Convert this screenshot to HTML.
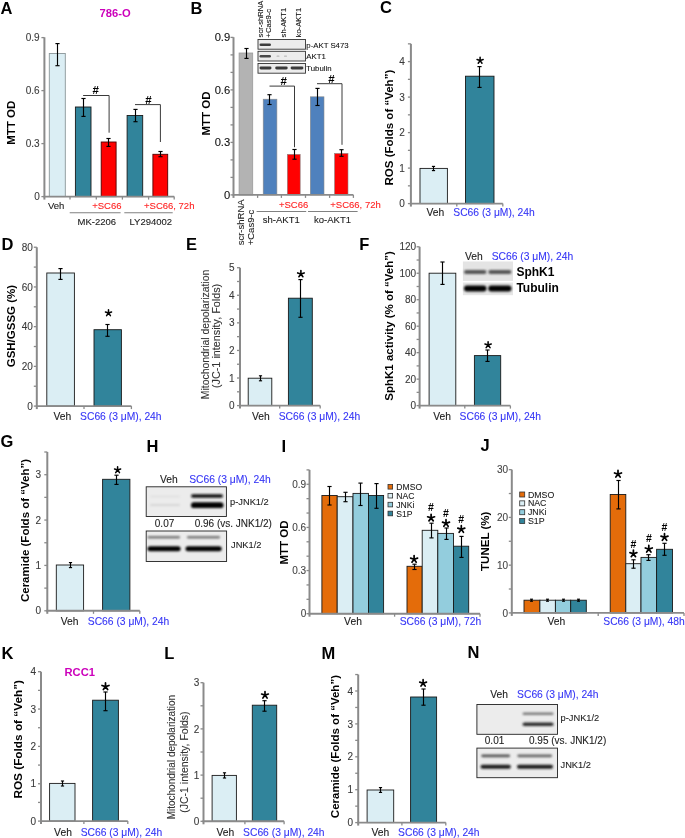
<!DOCTYPE html>
<html><head><meta charset="utf-8"><style>
html,body{margin:0;padding:0;background:#fff;width:685px;height:838px;overflow:hidden}
svg{display:block}
text{font-family:"Liberation Sans", sans-serif}
</style></head><body>
<svg width="685" height="838" viewBox="0 0 685 838">
<defs>
<filter id="b1" x="-50%" y="-200%" width="200%" height="500%"><feGaussianBlur stdDeviation="0.7"/></filter>
<filter id="b2" x="-50%" y="-200%" width="200%" height="500%"><feGaussianBlur stdDeviation="0.9"/></filter>
</defs>
<rect width="685" height="838" fill="#fff"/>
<g opacity="0.999">
<text x="0.5" y="13.55" font-size="16.5" fill="#000" font-weight="bold" text-anchor="start" >A</text>
<text x="99.6" y="17" font-size="11.2" fill="#cc00bb" font-weight="bold" text-anchor="start" >786-O</text>
<text x="39.7" y="200.2" font-size="10" fill="#3a3a3a" stroke="#3a3a3a" stroke-width="0.1" text-anchor="end" >0</text>
<text x="39.7" y="147.2" font-size="10" fill="#3a3a3a" stroke="#3a3a3a" stroke-width="0.1" text-anchor="end" >0.3</text>
<text x="39.7" y="94.2" font-size="10" fill="#3a3a3a" stroke="#3a3a3a" stroke-width="0.1" text-anchor="end" >0.6</text>
<text x="39.7" y="41.2" font-size="10" fill="#3a3a3a" stroke="#3a3a3a" stroke-width="0.1" text-anchor="end" >0.9</text>
<rect x="49.3" y="53.5" width="16" height="143.1" fill="#dbeef4" stroke="#8a9699" stroke-width="0.9" />
<line x1="57.5" y1="43.6" x2="57.5" y2="65.7" stroke="#000" stroke-width="1.15" />
<line x1="55.4" y1="43.6" x2="59.6" y2="43.6" stroke="#000" stroke-width="1.15" />
<line x1="55.4" y1="65.7" x2="59.6" y2="65.7" stroke="#000" stroke-width="1.15" />
<rect x="75.4" y="107" width="15.6" height="89.6" fill="#31849b" stroke="#1a1a1a" stroke-width="0.9" />
<line x1="83.5" y1="98.5" x2="83.5" y2="116.4" stroke="#000" stroke-width="1.15" />
<line x1="81.4" y1="98.5" x2="85.6" y2="98.5" stroke="#000" stroke-width="1.15" />
<line x1="81.4" y1="116.4" x2="85.6" y2="116.4" stroke="#000" stroke-width="1.15" />
<rect x="101.2" y="142" width="14.9" height="54.6" fill="#ff0000" stroke="#500000" stroke-width="0.9" />
<line x1="108.5" y1="138.5" x2="108.5" y2="146.4" stroke="#000" stroke-width="1.15" />
<line x1="106.4" y1="138.5" x2="110.6" y2="138.5" stroke="#000" stroke-width="1.15" />
<line x1="106.4" y1="146.4" x2="110.6" y2="146.4" stroke="#000" stroke-width="1.15" />
<rect x="127.1" y="115.5" width="15.6" height="81.1" fill="#31849b" stroke="#1a1a1a" stroke-width="0.9" />
<line x1="135.5" y1="109.4" x2="135.5" y2="121.7" stroke="#000" stroke-width="1.15" />
<line x1="133.4" y1="109.4" x2="137.6" y2="109.4" stroke="#000" stroke-width="1.15" />
<line x1="133.4" y1="121.7" x2="137.6" y2="121.7" stroke="#000" stroke-width="1.15" />
<rect x="152.9" y="154.3" width="14.8" height="42.3" fill="#ff0000" stroke="#500000" stroke-width="0.9" />
<line x1="160.5" y1="151.5" x2="160.5" y2="156.7" stroke="#000" stroke-width="1.15" />
<line x1="158.4" y1="151.5" x2="162.6" y2="151.5" stroke="#000" stroke-width="1.15" />
<line x1="158.4" y1="156.7" x2="162.6" y2="156.7" stroke="#000" stroke-width="1.15" />
<polyline points="83.1,95.5 109.1,95.5 109.1,132.7" fill="none" stroke="#3a3a3a" stroke-width="1"/>
<text x="95.7" y="94.33" font-size="11.5" fill="#000" font-weight="bold" text-anchor="middle" >#</text>
<polyline points="135,104.6 160.4,104.6 160.4,142" fill="none" stroke="#3a3a3a" stroke-width="1"/>
<text x="148.5" y="104.13" font-size="11.5" fill="#000" font-weight="bold" text-anchor="middle" >#</text>
<text x="56.2" y="209.3" font-size="9.5" fill="#1a1a1a" stroke="#1a1a1a" stroke-width="0.1" text-anchor="middle" >Veh</text>
<text x="121.5" y="209.3" font-size="9.5" fill="#ff2020" stroke="#ff2020" stroke-width="0.1" text-anchor="end" >+SC66</text>
<text x="144" y="209.3" font-size="9.5" fill="#ff2020" stroke="#ff2020" stroke-width="0.1" text-anchor="start" >+SC66, 72h</text>
<line x1="69.7" y1="212.8" x2="120.6" y2="212.8" stroke="#808080" stroke-width="1.1" />
<line x1="124.3" y1="212.8" x2="172.7" y2="212.8" stroke="#808080" stroke-width="1.1" />
<text x="96.9" y="225.3" font-size="9.5" fill="#1a1a1a" stroke="#1a1a1a" stroke-width="0.1" text-anchor="middle" >MK-2206</text>
<text x="150.8" y="225.3" font-size="9.5" fill="#1a1a1a" stroke="#1a1a1a" stroke-width="0.1" text-anchor="middle" >LY294002</text>
<text x="15.25" y="122.7" font-size="11.5" fill="#000" font-weight="bold" text-anchor="middle" transform="rotate(-90 15.25 122.7)" >MTT OD</text>
<text x="190.5" y="13.95" font-size="16.5" fill="#000" font-weight="bold" text-anchor="start" >B</text>
<text x="230.2" y="198.93" font-size="11.2" fill="#111" stroke="#111" stroke-width="0.1" text-anchor="end" >0</text>
<text x="230.2" y="146.43" font-size="11.2" fill="#111" stroke="#111" stroke-width="0.1" text-anchor="end" >0.3</text>
<text x="230.2" y="93.93" font-size="11.2" fill="#111" stroke="#111" stroke-width="0.1" text-anchor="end" >0.6</text>
<text x="230.2" y="41.43" font-size="11.2" fill="#111" stroke="#111" stroke-width="0.1" text-anchor="end" >0.9</text>
<rect x="239.1" y="53" width="13.6" height="141.9" fill="#b3b3b3" stroke="#9a9a9a" stroke-width="0.8" />
<line x1="246.5" y1="48.5" x2="246.5" y2="58.4" stroke="#000" stroke-width="1.15" />
<line x1="244.4" y1="48.5" x2="248.6" y2="48.5" stroke="#000" stroke-width="1.15" />
<line x1="244.4" y1="58.4" x2="248.6" y2="58.4" stroke="#000" stroke-width="1.15" />
<rect x="263.2" y="99.2" width="13.7" height="95.7" fill="#4f81bd" stroke="#8a8a8a" stroke-width="0.6" />
<line x1="269.5" y1="94.7" x2="269.5" y2="104.5" stroke="#000" stroke-width="1.15" />
<line x1="267.4" y1="94.7" x2="271.6" y2="94.7" stroke="#000" stroke-width="1.15" />
<line x1="267.4" y1="104.5" x2="271.6" y2="104.5" stroke="#000" stroke-width="1.15" />
<rect x="287.3" y="154.3" width="12.9" height="40.6" fill="#ff0000" stroke="#8a8a8a" stroke-width="0.6" />
<line x1="294.5" y1="149.5" x2="294.5" y2="159.2" stroke="#000" stroke-width="1.15" />
<line x1="292.4" y1="149.5" x2="296.6" y2="149.5" stroke="#000" stroke-width="1.15" />
<line x1="292.4" y1="159.2" x2="296.6" y2="159.2" stroke="#000" stroke-width="1.15" />
<rect x="310.3" y="96.8" width="13.7" height="98.1" fill="#4f81bd" stroke="#8a8a8a" stroke-width="0.6" />
<line x1="317.5" y1="88.4" x2="317.5" y2="105.5" stroke="#000" stroke-width="1.15" />
<line x1="315.4" y1="88.4" x2="319.6" y2="88.4" stroke="#000" stroke-width="1.15" />
<line x1="315.4" y1="105.5" x2="319.6" y2="105.5" stroke="#000" stroke-width="1.15" />
<rect x="334.5" y="153.4" width="13.5" height="41.5" fill="#ff0000" stroke="#8a8a8a" stroke-width="0.6" />
<line x1="341.5" y1="149.7" x2="341.5" y2="156.3" stroke="#000" stroke-width="1.15" />
<line x1="339.4" y1="149.7" x2="343.6" y2="149.7" stroke="#000" stroke-width="1.15" />
<line x1="339.4" y1="156.3" x2="343.6" y2="156.3" stroke="#000" stroke-width="1.15" />
<polyline points="269.5,86.1 294.5,86.1 294.5,147.2" fill="none" stroke="#3a3a3a" stroke-width="1"/>
<text x="283.6" y="84.63" font-size="11.5" fill="#000" font-weight="bold" text-anchor="middle" >#</text>
<polyline points="317,83.7 342,83.7 342,144.8" fill="none" stroke="#3a3a3a" stroke-width="1"/>
<text x="331.5" y="82.93" font-size="11.5" fill="#000" font-weight="bold" text-anchor="middle" >#</text>
<rect x="258" y="39.5" width="47.5" height="9.7" fill="#ececec" stroke="#333" stroke-width="0.9" />
<rect x="258" y="51.3" width="47.5" height="9.7" fill="#ececec" stroke="#333" stroke-width="0.9" />
<rect x="258" y="63.5" width="47.5" height="9.7" fill="#ececec" stroke="#333" stroke-width="0.9" />
<rect x="259.5" y="43.5" width="11.5" height="2.6" rx="1.3" fill="#3c3c3c" opacity="1.0" filter="url(#b1)"/>
<rect x="259.5" y="55" width="11.5" height="2.4" rx="1.2" fill="#4a4a4a" opacity="1.0" filter="url(#b1)"/>
<rect x="276.5" y="55.6" width="3" height="1.2" rx="0.6" fill="#bbb" opacity="1.0" filter="url(#b1)"/>
<rect x="284" y="55.6" width="3" height="1.2" rx="0.6" fill="#bbb" opacity="1.0" filter="url(#b1)"/>
<rect x="259.5" y="66.6" width="12" height="2.8" rx="1.4" fill="#3a3a3a" opacity="1.0" filter="url(#b1)"/>
<rect x="275.2" y="66.6" width="12.5" height="2.8" rx="1.4" fill="#3a3a3a" opacity="1.0" filter="url(#b1)"/>
<rect x="290.6" y="66.6" width="12.8" height="2.8" rx="1.4" fill="#3a3a3a" opacity="1.0" filter="url(#b1)"/>
<text x="306.3" y="47.5" font-size="7.8" fill="#111" stroke="#111" stroke-width="0.1" text-anchor="start" >p-AKT S473</text>
<text x="306.3" y="59.2" font-size="7.8" fill="#111" stroke="#111" stroke-width="0.1" text-anchor="start" >AKT1</text>
<text x="306.3" y="71" font-size="7.8" fill="#111" stroke="#111" stroke-width="0.1" text-anchor="start" >Tubulin</text>
<text x="263" y="37.4" font-size="7.6" fill="#111" stroke="#111" stroke-width="0.1" text-anchor="start" transform="rotate(-90 263 37.4)" >scr-shRNA</text>
<text x="270.6" y="37.4" font-size="7.6" fill="#111" stroke="#111" stroke-width="0.1" text-anchor="start" transform="rotate(-90 270.6 37.4)" >+Cas9-c</text>
<text x="285.6" y="37.4" font-size="7.6" fill="#111" stroke="#111" stroke-width="0.1" text-anchor="start" transform="rotate(-90 285.6 37.4)" >sh-AKT1</text>
<text x="301.3" y="37.4" font-size="7.6" fill="#111" stroke="#111" stroke-width="0.1" text-anchor="start" transform="rotate(-90 301.3 37.4)" >ko-AKT1</text>
<text x="308.3" y="208" font-size="9.5" fill="#ff2020" stroke="#ff2020" stroke-width="0.1" text-anchor="end" >+SC66</text>
<text x="330.3" y="208" font-size="9.5" fill="#ff2020" stroke="#ff2020" stroke-width="0.1" text-anchor="start" >+SC66, 72h</text>
<line x1="256.6" y1="211.5" x2="306.2" y2="211.5" stroke="#808080" stroke-width="1.1" />
<line x1="308" y1="211.5" x2="357.6" y2="211.5" stroke="#808080" stroke-width="1.1" />
<text x="281.3" y="223.2" font-size="9.5" fill="#1a1a1a" stroke="#1a1a1a" stroke-width="0.1" text-anchor="middle" >sh-AKT1</text>
<text x="332.5" y="223.2" font-size="9.5" fill="#1a1a1a" stroke="#1a1a1a" stroke-width="0.1" text-anchor="middle" >ko-AKT1</text>
<text x="244.5" y="245.3" font-size="9.5" fill="#222" stroke="#222" stroke-width="0.1" text-anchor="start" transform="rotate(-90 244.5 245.3)" >scr-shRNA</text>
<text x="254.4" y="245.3" font-size="9.5" fill="#222" stroke="#222" stroke-width="0.1" text-anchor="start" transform="rotate(-90 254.4 245.3)" >+Cas9-c</text>
<text x="209.95" y="113.5" font-size="11.5" fill="#000" font-weight="bold" text-anchor="middle" transform="rotate(-90 209.95 113.5)" >MTT OD</text>
<text x="380" y="12.65" font-size="16.5" fill="#000" font-weight="bold" text-anchor="start" >C</text>
<text x="404.9" y="207.2" font-size="10" fill="#3a3a3a" stroke="#3a3a3a" stroke-width="0.1" text-anchor="end" >0</text>
<text x="404.9" y="171.7" font-size="10" fill="#3a3a3a" stroke="#3a3a3a" stroke-width="0.1" text-anchor="end" >1</text>
<text x="404.9" y="136.2" font-size="10" fill="#3a3a3a" stroke="#3a3a3a" stroke-width="0.1" text-anchor="end" >2</text>
<text x="404.9" y="100.7" font-size="10" fill="#3a3a3a" stroke="#3a3a3a" stroke-width="0.1" text-anchor="end" >3</text>
<text x="404.9" y="65.2" font-size="10" fill="#3a3a3a" stroke="#3a3a3a" stroke-width="0.1" text-anchor="end" >4</text>
<rect x="420" y="168.4" width="27.4" height="35.2" fill="#dbeef4" stroke="#1a1a1a" stroke-width="0.9" />
<line x1="433.5" y1="166.4" x2="433.5" y2="170.6" stroke="#000" stroke-width="1.15" />
<line x1="431.9" y1="166.4" x2="435.1" y2="166.4" stroke="#000" stroke-width="1.15" />
<line x1="431.9" y1="170.6" x2="435.1" y2="170.6" stroke="#000" stroke-width="1.15" />
<rect x="465.5" y="76.2" width="28.5" height="127.4" fill="#31849b" stroke="#1a1a1a" stroke-width="0.9" />
<line x1="479.5" y1="66.6" x2="479.5" y2="87.4" stroke="#000" stroke-width="1.15" />
<line x1="477.4" y1="66.6" x2="481.6" y2="66.6" stroke="#000" stroke-width="1.15" />
<line x1="477.4" y1="87.4" x2="481.6" y2="87.4" stroke="#000" stroke-width="1.15" />
<path d="M480.1,60.58L480.1,57.36M480.1,60.58L483.16,59.58M480.1,60.58L481.99,63.18M480.1,60.58L478.21,63.18M480.1,60.58L477.04,59.58" stroke="#000" stroke-width="1.52" stroke-linecap="round" fill="none"/>
<text x="435.3" y="215.6" font-size="10.3" fill="#1a1a1a" stroke="#1a1a1a" stroke-width="0.1" text-anchor="middle" >Veh</text>
<text x="453.3" y="215.6" font-size="10.3" fill="#3535f5" stroke="#3535f5" stroke-width="0.1" text-anchor="start" >SC66 (3 μM), 24h</text>
<text x="393.05" y="127.6" font-size="11.5" fill="#000" font-weight="bold" text-anchor="middle" transform="rotate(-90 393.05 127.6)" >ROS (Folds of “Veh”)</text>
<text x="1.5" y="250.15" font-size="16.5" fill="#000" font-weight="bold" text-anchor="start" >D</text>
<text x="32.9" y="409.7" font-size="10" fill="#3a3a3a" stroke="#3a3a3a" stroke-width="0.1" text-anchor="end" >0</text>
<text x="32.9" y="369.98" font-size="10" fill="#3a3a3a" stroke="#3a3a3a" stroke-width="0.1" text-anchor="end" >20</text>
<text x="32.9" y="330.26" font-size="10" fill="#3a3a3a" stroke="#3a3a3a" stroke-width="0.1" text-anchor="end" >40</text>
<text x="32.9" y="290.54" font-size="10" fill="#3a3a3a" stroke="#3a3a3a" stroke-width="0.1" text-anchor="end" >60</text>
<text x="32.9" y="250.82" font-size="10" fill="#3a3a3a" stroke="#3a3a3a" stroke-width="0.1" text-anchor="end" >80</text>
<rect x="46.8" y="273" width="27.6" height="133.1" fill="#dbeef4" stroke="#1a1a1a" stroke-width="0.9" />
<line x1="60.5" y1="268.6" x2="60.5" y2="279.4" stroke="#000" stroke-width="1.15" />
<line x1="58.4" y1="268.6" x2="62.6" y2="268.6" stroke="#000" stroke-width="1.15" />
<line x1="58.4" y1="279.4" x2="62.6" y2="279.4" stroke="#000" stroke-width="1.15" />
<rect x="94" y="329.7" width="27.4" height="76.4" fill="#31849b" stroke="#1a1a1a" stroke-width="0.9" />
<line x1="107.5" y1="324.5" x2="107.5" y2="336.3" stroke="#000" stroke-width="1.15" />
<line x1="105.4" y1="324.5" x2="109.6" y2="324.5" stroke="#000" stroke-width="1.15" />
<line x1="105.4" y1="336.3" x2="109.6" y2="336.3" stroke="#000" stroke-width="1.15" />
<path d="M108.5,312.98L108.5,309.76M108.5,312.98L111.56,311.98M108.5,312.98L110.39,315.58M108.5,312.98L106.61,315.58M108.5,312.98L105.44,311.98" stroke="#000" stroke-width="1.52" stroke-linecap="round" fill="none"/>
<text x="62.4" y="420.1" font-size="10.3" fill="#1a1a1a" stroke="#1a1a1a" stroke-width="0.1" text-anchor="middle" >Veh</text>
<text x="80.1" y="420.1" font-size="10.3" fill="#3535f5" stroke="#3535f5" stroke-width="0.1" text-anchor="start" >SC66 (3 μM), 24h</text>
<text x="14.95" y="326.1" font-size="11.5" fill="#000" font-weight="bold" text-anchor="middle" transform="rotate(-90 14.95 326.1)" >GSH/GSSG (%)</text>
<text x="186" y="250.35" font-size="16.5" fill="#000" font-weight="bold" text-anchor="start" >E</text>
<text x="234.6" y="409.2" font-size="10" fill="#3a3a3a" stroke="#3a3a3a" stroke-width="0.1" text-anchor="end" >0</text>
<text x="234.6" y="381.62" font-size="10" fill="#3a3a3a" stroke="#3a3a3a" stroke-width="0.1" text-anchor="end" >1</text>
<text x="234.6" y="354.04" font-size="10" fill="#3a3a3a" stroke="#3a3a3a" stroke-width="0.1" text-anchor="end" >2</text>
<text x="234.6" y="326.46" font-size="10" fill="#3a3a3a" stroke="#3a3a3a" stroke-width="0.1" text-anchor="end" >3</text>
<text x="234.6" y="298.88" font-size="10" fill="#3a3a3a" stroke="#3a3a3a" stroke-width="0.1" text-anchor="end" >4</text>
<text x="234.6" y="271.3" font-size="10" fill="#3a3a3a" stroke="#3a3a3a" stroke-width="0.1" text-anchor="end" >5</text>
<rect x="248.2" y="378.2" width="23.6" height="27.4" fill="#dbeef4" stroke="#1a1a1a" stroke-width="0.9" />
<line x1="260.5" y1="375.8" x2="260.5" y2="380.8" stroke="#000" stroke-width="1.15" />
<line x1="258.9" y1="375.8" x2="262.1" y2="375.8" stroke="#000" stroke-width="1.15" />
<line x1="258.9" y1="380.8" x2="262.1" y2="380.8" stroke="#000" stroke-width="1.15" />
<rect x="288.4" y="298.2" width="23.9" height="107.4" fill="#31849b" stroke="#1a1a1a" stroke-width="0.9" />
<line x1="300.5" y1="279.6" x2="300.5" y2="317.3" stroke="#000" stroke-width="1.15" />
<line x1="298.4" y1="279.6" x2="302.6" y2="279.6" stroke="#000" stroke-width="1.15" />
<line x1="298.4" y1="317.3" x2="302.6" y2="317.3" stroke="#000" stroke-width="1.15" />
<path d="M300.9,273.99L300.9,270.6M300.9,273.99L304.13,272.94M300.9,273.99L302.89,276.74M300.9,273.99L298.91,276.74M300.9,273.99L297.67,272.94" stroke="#000" stroke-width="1.6" stroke-linecap="round" fill="none"/>
<text x="260.8" y="419.8" font-size="10.3" fill="#1a1a1a" stroke="#1a1a1a" stroke-width="0.1" text-anchor="middle" >Veh</text>
<text x="278.7" y="419.8" font-size="10.3" fill="#3535f5" stroke="#3535f5" stroke-width="0.1" text-anchor="start" >SC66 (3 μM), 24h</text>
<text x="208.62" y="334.5" font-size="10.4" fill="#333" stroke="#333" stroke-width="0.1" text-anchor="middle" transform="rotate(-90 208.62 334.5)" >Mitochondrial depolarization</text>
<text x="220.44" y="335.9" font-size="10.8" fill="#333" stroke="#333" stroke-width="0.1" text-anchor="middle" transform="rotate(-90 220.44 335.9)" >(JC-1 intensity, Folds)</text>
<text x="359.3" y="250.15" font-size="16.5" fill="#000" font-weight="bold" text-anchor="start" >F</text>
<text x="416.1" y="409.2" font-size="10" fill="#3a3a3a" stroke="#3a3a3a" stroke-width="0.1" text-anchor="end" >0</text>
<text x="416.1" y="382.73" font-size="10" fill="#3a3a3a" stroke="#3a3a3a" stroke-width="0.1" text-anchor="end" >20</text>
<text x="416.1" y="356.26" font-size="10" fill="#3a3a3a" stroke="#3a3a3a" stroke-width="0.1" text-anchor="end" >40</text>
<text x="416.1" y="329.79" font-size="10" fill="#3a3a3a" stroke="#3a3a3a" stroke-width="0.1" text-anchor="end" >60</text>
<text x="416.1" y="303.32" font-size="10" fill="#3a3a3a" stroke="#3a3a3a" stroke-width="0.1" text-anchor="end" >80</text>
<text x="416.1" y="276.85" font-size="10" fill="#3a3a3a" stroke="#3a3a3a" stroke-width="0.1" text-anchor="end" >100</text>
<text x="416.1" y="250.38" font-size="10" fill="#3a3a3a" stroke="#3a3a3a" stroke-width="0.1" text-anchor="end" >120</text>
<rect x="429.1" y="273.2" width="26.7" height="132.4" fill="#dbeef4" stroke="#1a1a1a" stroke-width="0.9" />
<line x1="442.5" y1="262" x2="442.5" y2="284.4" stroke="#000" stroke-width="1.15" />
<line x1="440.4" y1="262" x2="444.6" y2="262" stroke="#000" stroke-width="1.15" />
<line x1="440.4" y1="284.4" x2="444.6" y2="284.4" stroke="#000" stroke-width="1.15" />
<rect x="474.4" y="355.6" width="26.3" height="50" fill="#31849b" stroke="#1a1a1a" stroke-width="0.9" />
<line x1="487.5" y1="350" x2="487.5" y2="361.4" stroke="#000" stroke-width="1.15" />
<line x1="485.4" y1="350" x2="489.6" y2="350" stroke="#000" stroke-width="1.15" />
<line x1="485.4" y1="361.4" x2="489.6" y2="361.4" stroke="#000" stroke-width="1.15" />
<path d="M488.1,344.99L488.1,341.68M488.1,344.99L491.24,343.96M488.1,344.99L490.04,347.66M488.1,344.99L486.16,347.66M488.1,344.99L484.96,343.96" stroke="#000" stroke-width="1.56" stroke-linecap="round" fill="none"/>
<text x="442.2" y="419.8" font-size="10.3" fill="#1a1a1a" stroke="#1a1a1a" stroke-width="0.1" text-anchor="middle" >Veh</text>
<text x="459.6" y="419.8" font-size="10.3" fill="#3535f5" stroke="#3535f5" stroke-width="0.1" text-anchor="start" >SC66 (3 μM), 24h</text>
<text x="393.45" y="325.9" font-size="11.5" fill="#000" font-weight="bold" text-anchor="middle" transform="rotate(-90 393.45 325.9)" >SphK1 activity (% of “Veh”)</text>
<rect x="462.9" y="261.5" width="50.1" height="19.4" fill="#e4e4e4" />
<rect x="462.9" y="282.5" width="50.1" height="12.7" fill="#e6e6e6" />
<rect x="464" y="269.9" width="22.5" height="4.2" rx="2.1" fill="#555" opacity="1.0" filter="url(#b2)"/>
<rect x="488.3" y="269.9" width="23.2" height="4.2" rx="2.1" fill="#555" opacity="1.0" filter="url(#b2)"/>
<rect x="464" y="285.6" width="22.5" height="5.8" rx="2.9" fill="#000" opacity="1.0" filter="url(#b2)"/>
<rect x="488.3" y="285.6" width="23.2" height="5.8" rx="2.9" fill="#000" opacity="1.0" filter="url(#b2)"/>
<text x="465" y="259.5" font-size="10.3" fill="#222" stroke="#222" stroke-width="0.1" text-anchor="start" >Veh</text>
<text x="491.7" y="259.5" font-size="10.3" fill="#3535f5" stroke="#3535f5" stroke-width="0.1" text-anchor="start" >SC66 (3 μM), 24h</text>
<text x="516.4" y="276.4" font-size="12" fill="#000" font-weight="bold" text-anchor="start" >SphK1</text>
<text x="516.4" y="291.6" font-size="12" fill="#000" font-weight="bold" text-anchor="start" >Tubulin</text>
<text x="0.5" y="446.95" font-size="16.5" fill="#000" font-weight="bold" text-anchor="start" >G</text>
<text x="41.1" y="614.4" font-size="10" fill="#3a3a3a" stroke="#3a3a3a" stroke-width="0.1" text-anchor="end" >0</text>
<text x="41.1" y="569.03" font-size="10" fill="#3a3a3a" stroke="#3a3a3a" stroke-width="0.1" text-anchor="end" >1</text>
<text x="41.1" y="523.66" font-size="10" fill="#3a3a3a" stroke="#3a3a3a" stroke-width="0.1" text-anchor="end" >2</text>
<text x="41.1" y="478.29" font-size="10" fill="#3a3a3a" stroke="#3a3a3a" stroke-width="0.1" text-anchor="end" >3</text>
<rect x="56.3" y="565" width="27.3" height="45.8" fill="#dbeef4" stroke="#1a1a1a" stroke-width="0.9" />
<line x1="70.5" y1="562.6" x2="70.5" y2="567.6" stroke="#000" stroke-width="1.15" />
<line x1="68.9" y1="562.6" x2="72.1" y2="562.6" stroke="#000" stroke-width="1.15" />
<line x1="68.9" y1="567.6" x2="72.1" y2="567.6" stroke="#000" stroke-width="1.15" />
<rect x="102.6" y="479.3" width="27.3" height="131.5" fill="#31849b" stroke="#1a1a1a" stroke-width="0.9" />
<line x1="116.5" y1="475.2" x2="116.5" y2="484.4" stroke="#000" stroke-width="1.15" />
<line x1="114.4" y1="475.2" x2="118.6" y2="475.2" stroke="#000" stroke-width="1.15" />
<line x1="114.4" y1="484.4" x2="118.6" y2="484.4" stroke="#000" stroke-width="1.15" />
<path d="M117.6,469.98L117.6,466.76M117.6,469.98L120.66,468.98M117.6,469.98L119.49,472.58M117.6,469.98L115.71,472.58M117.6,469.98L114.54,468.98" stroke="#000" stroke-width="1.52" stroke-linecap="round" fill="none"/>
<text x="69.7" y="625" font-size="10.3" fill="#1a1a1a" stroke="#1a1a1a" stroke-width="0.1" text-anchor="middle" >Veh</text>
<text x="87.8" y="625" font-size="10.3" fill="#3535f5" stroke="#3535f5" stroke-width="0.1" text-anchor="start" >SC66 (3 μM), 24h</text>
<text x="29.35" y="530.5" font-size="11.5" fill="#000" font-weight="bold" text-anchor="middle" transform="rotate(-90 29.35 530.5)" >Ceramide (Folds of “Veh”)</text>
<text x="146.5" y="451.65" font-size="16.5" fill="#000" font-weight="bold" text-anchor="start" >H</text>
<text x="160" y="482.8" font-size="10.3" fill="#222" stroke="#222" stroke-width="0.1" text-anchor="start" >Veh</text>
<text x="189.2" y="482.8" font-size="10.3" fill="#3535f5" stroke="#3535f5" stroke-width="0.1" text-anchor="start" >SC66 (3 μM), 24h</text>
<rect x="146.2" y="486.8" width="80.2" height="29.7" fill="#ececec" stroke="#222" stroke-width="0.9" />
<rect x="191" y="494.2" width="32" height="3.6" rx="1.8" fill="#111" opacity="1.0" filter="url(#b2)"/>
<rect x="191" y="502.3" width="32.5" height="5.8" rx="2.9" fill="#000" opacity="1.0" filter="url(#b2)"/>
<rect x="150" y="495.75" width="30" height="1.5" rx="0.75" fill="#ddd" opacity="1.0" filter="url(#b2)"/>
<rect x="150" y="504.1" width="30" height="1.8" rx="0.9" fill="#d6d6d6" opacity="1.0" filter="url(#b2)"/>
<text x="230" y="505" font-size="9.3" fill="#222" stroke="#222" stroke-width="0.1" text-anchor="start" >p-JNK1/2</text>
<text x="154.8" y="527.3" font-size="10" fill="#222" stroke="#222" stroke-width="0.1" text-anchor="start" >0.07</text>
<text x="194.7" y="527.3" font-size="10" fill="#222" stroke="#222" stroke-width="0.1" text-anchor="start" >0.96 (vs. JNK1/2)</text>
<rect x="146.2" y="531" width="80.4" height="30.5" fill="#ececec" stroke="#222" stroke-width="0.9" />
<rect x="147.5" y="535.9" width="32.5" height="2.6" rx="1.3" fill="#777" opacity="1.0" filter="url(#b2)"/>
<rect x="187" y="535.9" width="33" height="2.6" rx="1.3" fill="#777" opacity="1.0" filter="url(#b2)"/>
<rect x="147.5" y="546.2" width="33.1" height="5" rx="2.5" fill="#000" opacity="1.0" filter="url(#b2)"/>
<rect x="185.5" y="546.2" width="36.2" height="5" rx="2.5" fill="#000" opacity="1.0" filter="url(#b2)"/>
<text x="231" y="548.2" font-size="9.3" fill="#222" stroke="#222" stroke-width="0.1" text-anchor="start" >JNK1/2</text>
<text x="281.4" y="452.45" font-size="16.5" fill="#000" font-weight="bold" text-anchor="start" >I</text>
<text x="306.2" y="617.3" font-size="10" fill="#444" stroke="#444" stroke-width="0.1" text-anchor="end" >0</text>
<text x="306.2" y="574.16" font-size="10" fill="#444" stroke="#444" stroke-width="0.1" text-anchor="end" >0.3</text>
<text x="306.2" y="531.02" font-size="10" fill="#444" stroke="#444" stroke-width="0.1" text-anchor="end" >0.6</text>
<text x="306.2" y="487.88" font-size="10" fill="#444" stroke="#444" stroke-width="0.1" text-anchor="end" >0.9</text>
<rect x="321.9" y="495.5" width="15.3" height="118.2" fill="#e46c0a" stroke="#1a1a1a" stroke-width="0.9" />
<rect x="337.2" y="496.7" width="15.8" height="117" fill="#dbeef4" stroke="#1a1a1a" stroke-width="0.9" />
<rect x="353" y="493.4" width="15.5" height="120.3" fill="#93cddd" stroke="#1a1a1a" stroke-width="0.9" />
<rect x="368.5" y="495.5" width="15.1" height="118.2" fill="#31849b" stroke="#1a1a1a" stroke-width="0.9" />
<line x1="329.5" y1="486.5" x2="329.5" y2="505" stroke="#000" stroke-width="1.15" />
<line x1="327.4" y1="486.5" x2="331.6" y2="486.5" stroke="#000" stroke-width="1.15" />
<line x1="327.4" y1="505" x2="331.6" y2="505" stroke="#000" stroke-width="1.15" />
<line x1="345.5" y1="492.3" x2="345.5" y2="501.7" stroke="#000" stroke-width="1.15" />
<line x1="343.4" y1="492.3" x2="347.6" y2="492.3" stroke="#000" stroke-width="1.15" />
<line x1="343.4" y1="501.7" x2="347.6" y2="501.7" stroke="#000" stroke-width="1.15" />
<line x1="360.5" y1="483.1" x2="360.5" y2="505.5" stroke="#000" stroke-width="1.15" />
<line x1="358.4" y1="483.1" x2="362.6" y2="483.1" stroke="#000" stroke-width="1.15" />
<line x1="358.4" y1="505.5" x2="362.6" y2="505.5" stroke="#000" stroke-width="1.15" />
<line x1="376.5" y1="483.6" x2="376.5" y2="508.3" stroke="#000" stroke-width="1.15" />
<line x1="374.4" y1="483.6" x2="378.6" y2="483.6" stroke="#000" stroke-width="1.15" />
<line x1="374.4" y1="508.3" x2="378.6" y2="508.3" stroke="#000" stroke-width="1.15" />
<rect x="407" y="566.3" width="15.2" height="47.4" fill="#e46c0a" stroke="#1a1a1a" stroke-width="0.9" />
<rect x="422.2" y="530.3" width="15.6" height="83.4" fill="#dbeef4" stroke="#1a1a1a" stroke-width="0.9" />
<rect x="437.8" y="533.4" width="15.7" height="80.3" fill="#93cddd" stroke="#1a1a1a" stroke-width="0.9" />
<rect x="453.5" y="546.2" width="15.2" height="67.5" fill="#31849b" stroke="#1a1a1a" stroke-width="0.9" />
<line x1="414.5" y1="564.2" x2="414.5" y2="569.5" stroke="#000" stroke-width="1.15" />
<line x1="412.4" y1="564.2" x2="416.6" y2="564.2" stroke="#000" stroke-width="1.15" />
<line x1="412.4" y1="569.5" x2="416.6" y2="569.5" stroke="#000" stroke-width="1.15" />
<line x1="431.5" y1="523.2" x2="431.5" y2="537.9" stroke="#000" stroke-width="1.15" />
<line x1="429.4" y1="523.2" x2="433.6" y2="523.2" stroke="#000" stroke-width="1.15" />
<line x1="429.4" y1="537.9" x2="433.6" y2="537.9" stroke="#000" stroke-width="1.15" />
<line x1="446.5" y1="528" x2="446.5" y2="539.4" stroke="#000" stroke-width="1.15" />
<line x1="444.4" y1="528" x2="448.6" y2="528" stroke="#000" stroke-width="1.15" />
<line x1="444.4" y1="539.4" x2="448.6" y2="539.4" stroke="#000" stroke-width="1.15" />
<line x1="461.5" y1="536.4" x2="461.5" y2="557.4" stroke="#000" stroke-width="1.15" />
<line x1="459.4" y1="536.4" x2="463.6" y2="536.4" stroke="#000" stroke-width="1.15" />
<line x1="459.4" y1="557.4" x2="463.6" y2="557.4" stroke="#000" stroke-width="1.15" />
<path d="M414.1,559.22L414.1,555.56M414.1,559.22L417.58,558.09M414.1,559.22L416.25,562.17M414.1,559.22L411.95,562.17M414.1,559.22L410.62,558.09" stroke="#000" stroke-width="1.72" stroke-linecap="round" fill="none"/>
<path d="M431.1,517.91L431.1,514.26M431.1,517.91L434.58,516.79M431.1,517.91L433.25,520.87M431.1,517.91L428.95,520.87M431.1,517.91L427.62,516.79" stroke="#000" stroke-width="1.72" stroke-linecap="round" fill="none"/>
<path d="M446,523.32L446,519.66M446,523.32L449.48,522.19M446,523.32L448.15,526.27M446,523.32L443.85,526.27M446,523.32L442.52,522.19" stroke="#000" stroke-width="1.72" stroke-linecap="round" fill="none"/>
<path d="M461.3,529.32L461.3,525.66M461.3,529.32L464.78,528.19M461.3,529.32L463.45,532.27M461.3,529.32L459.15,532.27M461.3,529.32L457.82,528.19" stroke="#000" stroke-width="1.72" stroke-linecap="round" fill="none"/>
<text x="430.9" y="511.35" font-size="10.5" fill="#000" font-weight="bold" text-anchor="middle" >#</text>
<text x="445.9" y="516.95" font-size="10.5" fill="#000" font-weight="bold" text-anchor="middle" >#</text>
<text x="461.2" y="523.05" font-size="10.5" fill="#000" font-weight="bold" text-anchor="middle" >#</text>
<rect x="388" y="484.5" width="4.6" height="4.6" fill="#e46c0a" stroke="#333" stroke-width="0.8" />
<text x="396.3" y="489.9" font-size="8.6" fill="#222" stroke="#222" stroke-width="0.1" text-anchor="start" >DMSO</text>
<rect x="388" y="493.4" width="4.6" height="4.6" fill="#dbeef4" stroke="#333" stroke-width="0.8" />
<text x="396.3" y="498.8" font-size="8.6" fill="#222" stroke="#222" stroke-width="0.1" text-anchor="start" >NAC</text>
<rect x="388" y="502.3" width="4.6" height="4.6" fill="#93cddd" stroke="#333" stroke-width="0.8" />
<text x="396.3" y="507.7" font-size="8.6" fill="#222" stroke="#222" stroke-width="0.1" text-anchor="start" >JNKi</text>
<rect x="388" y="511.2" width="4.6" height="4.6" fill="#31849b" stroke="#333" stroke-width="0.8" />
<text x="396.3" y="516.6" font-size="8.6" fill="#222" stroke="#222" stroke-width="0.1" text-anchor="start" >S1P</text>
<text x="353" y="625" font-size="10.3" fill="#1a1a1a" stroke="#1a1a1a" stroke-width="0.1" text-anchor="middle" >Veh</text>
<text x="399.7" y="625" font-size="10.3" fill="#3535f5" stroke="#3535f5" stroke-width="0.1" text-anchor="start" >SC66 (3 μM), 72h</text>
<text x="288.25" y="542.5" font-size="11.5" fill="#000" font-weight="bold" text-anchor="middle" transform="rotate(-90 288.25 542.5)" >MTT OD</text>
<text x="480.5" y="450.55" font-size="16.5" fill="#000" font-weight="bold" text-anchor="start" >J</text>
<text x="508" y="616.5" font-size="10" fill="#444" stroke="#444" stroke-width="0.1" text-anchor="end" >0</text>
<text x="508" y="568.75" font-size="10" fill="#444" stroke="#444" stroke-width="0.1" text-anchor="end" >10</text>
<text x="508" y="521" font-size="10" fill="#444" stroke="#444" stroke-width="0.1" text-anchor="end" >20</text>
<text x="508" y="473.25" font-size="10" fill="#444" stroke="#444" stroke-width="0.1" text-anchor="end" >30</text>
<rect x="524" y="600.2" width="15.9" height="12.7" fill="#e46c0a" stroke="#1a1a1a" stroke-width="0.9" />
<line x1="531.5" y1="599.2" x2="531.5" y2="601.2" stroke="#000" stroke-width="1.15" />
<line x1="530" y1="599.2" x2="533" y2="599.2" stroke="#000" stroke-width="1.15" />
<line x1="530" y1="601.2" x2="533" y2="601.2" stroke="#000" stroke-width="1.15" />
<rect x="539.9" y="600.2" width="15.5" height="12.7" fill="#dbeef4" stroke="#1a1a1a" stroke-width="0.9" />
<line x1="547.5" y1="599.2" x2="547.5" y2="601.2" stroke="#000" stroke-width="1.15" />
<line x1="546" y1="599.2" x2="549" y2="599.2" stroke="#000" stroke-width="1.15" />
<line x1="546" y1="601.2" x2="549" y2="601.2" stroke="#000" stroke-width="1.15" />
<rect x="555.4" y="600.2" width="15.3" height="12.7" fill="#93cddd" stroke="#1a1a1a" stroke-width="0.9" />
<line x1="563.5" y1="599.2" x2="563.5" y2="601.2" stroke="#000" stroke-width="1.15" />
<line x1="562" y1="599.2" x2="565" y2="599.2" stroke="#000" stroke-width="1.15" />
<line x1="562" y1="601.2" x2="565" y2="601.2" stroke="#000" stroke-width="1.15" />
<rect x="570.7" y="600.2" width="15.6" height="12.7" fill="#31849b" stroke="#1a1a1a" stroke-width="0.9" />
<line x1="578.5" y1="599.2" x2="578.5" y2="601.2" stroke="#000" stroke-width="1.15" />
<line x1="577" y1="599.2" x2="580" y2="599.2" stroke="#000" stroke-width="1.15" />
<line x1="577" y1="601.2" x2="580" y2="601.2" stroke="#000" stroke-width="1.15" />
<rect x="610.2" y="494.5" width="15.6" height="118.4" fill="#e46c0a" stroke="#1a1a1a" stroke-width="0.9" />
<rect x="625.8" y="563.7" width="15.2" height="49.2" fill="#dbeef4" stroke="#1a1a1a" stroke-width="0.9" />
<rect x="641" y="557.4" width="15.6" height="55.5" fill="#93cddd" stroke="#1a1a1a" stroke-width="0.9" />
<rect x="656.6" y="549.3" width="15.9" height="63.6" fill="#31849b" stroke="#1a1a1a" stroke-width="0.9" />
<line x1="618.5" y1="480.5" x2="618.5" y2="508.9" stroke="#000" stroke-width="1.15" />
<line x1="616.4" y1="480.5" x2="620.6" y2="480.5" stroke="#000" stroke-width="1.15" />
<line x1="616.4" y1="508.9" x2="620.6" y2="508.9" stroke="#000" stroke-width="1.15" />
<line x1="633.5" y1="559.8" x2="633.5" y2="568.2" stroke="#000" stroke-width="1.15" />
<line x1="631.4" y1="559.8" x2="635.6" y2="559.8" stroke="#000" stroke-width="1.15" />
<line x1="631.4" y1="568.2" x2="635.6" y2="568.2" stroke="#000" stroke-width="1.15" />
<line x1="648.5" y1="554.7" x2="648.5" y2="560.4" stroke="#000" stroke-width="1.15" />
<line x1="646.4" y1="554.7" x2="650.6" y2="554.7" stroke="#000" stroke-width="1.15" />
<line x1="646.4" y1="560.4" x2="650.6" y2="560.4" stroke="#000" stroke-width="1.15" />
<line x1="664.5" y1="543.3" x2="664.5" y2="555.3" stroke="#000" stroke-width="1.15" />
<line x1="662.4" y1="543.3" x2="666.6" y2="543.3" stroke="#000" stroke-width="1.15" />
<line x1="662.4" y1="555.3" x2="666.6" y2="555.3" stroke="#000" stroke-width="1.15" />
<path d="M618,474.12L618,470.46M618,474.12L621.48,472.99M618,474.12L620.15,477.07M618,474.12L615.85,477.07M618,474.12L614.52,472.99" stroke="#000" stroke-width="1.72" stroke-linecap="round" fill="none"/>
<path d="M633.4,553.72L633.4,550.06M633.4,553.72L636.88,552.59M633.4,553.72L635.55,556.67M633.4,553.72L631.25,556.67M633.4,553.72L629.92,552.59" stroke="#000" stroke-width="1.72" stroke-linecap="round" fill="none"/>
<path d="M648.8,549.12L648.8,545.46M648.8,549.12L652.28,547.99M648.8,549.12L650.95,552.07M648.8,549.12L646.65,552.07M648.8,549.12L645.32,547.99" stroke="#000" stroke-width="1.72" stroke-linecap="round" fill="none"/>
<path d="M664.5,537.32L664.5,533.66M664.5,537.32L667.98,536.19M664.5,537.32L666.65,540.27M664.5,537.32L662.35,540.27M664.5,537.32L661.02,536.19" stroke="#000" stroke-width="1.72" stroke-linecap="round" fill="none"/>
<text x="633.4" y="547.55" font-size="10.5" fill="#000" font-weight="bold" text-anchor="middle" >#</text>
<text x="648.8" y="542.45" font-size="10.5" fill="#000" font-weight="bold" text-anchor="middle" >#</text>
<text x="664.5" y="531.25" font-size="10.5" fill="#000" font-weight="bold" text-anchor="middle" >#</text>
<rect x="519.7" y="492" width="5" height="5" fill="#e46c0a" stroke="#333" stroke-width="0.8" />
<text x="527.9" y="497.6" font-size="8.8" fill="#222" stroke="#222" stroke-width="0.1" text-anchor="start" >DMSO</text>
<rect x="519.7" y="500.85" width="5" height="5" fill="#dbeef4" stroke="#333" stroke-width="0.8" />
<text x="527.9" y="506.45" font-size="8.8" fill="#222" stroke="#222" stroke-width="0.1" text-anchor="start" >NAC</text>
<rect x="519.7" y="509.7" width="5" height="5" fill="#93cddd" stroke="#333" stroke-width="0.8" />
<text x="527.9" y="515.3" font-size="8.8" fill="#222" stroke="#222" stroke-width="0.1" text-anchor="start" >JNKi</text>
<rect x="519.7" y="518.55" width="5" height="5" fill="#31849b" stroke="#333" stroke-width="0.8" />
<text x="527.9" y="524.15" font-size="8.8" fill="#222" stroke="#222" stroke-width="0.1" text-anchor="start" >S1P</text>
<text x="556.3" y="625" font-size="10.3" fill="#1a1a1a" stroke="#1a1a1a" stroke-width="0.1" text-anchor="middle" >Veh</text>
<text x="603.3" y="625" font-size="10.3" fill="#3535f5" stroke="#3535f5" stroke-width="0.1" text-anchor="start" >SC66 (3 μM), 48h</text>
<text x="489.25" y="541.3" font-size="11.5" fill="#000" font-weight="bold" text-anchor="middle" transform="rotate(-90 489.25 541.3)" >TUNEL (%)</text>
<text x="1.5" y="659.05" font-size="16.5" fill="#000" font-weight="bold" text-anchor="start" >K</text>
<text x="64.5" y="675.9" font-size="11.2" fill="#cc00bb" font-weight="bold" text-anchor="start" >RCC1</text>
<text x="36" y="824.7" font-size="10" fill="#3a3a3a" stroke="#3a3a3a" stroke-width="0.1" text-anchor="end" >0</text>
<text x="36" y="787.35" font-size="10" fill="#3a3a3a" stroke="#3a3a3a" stroke-width="0.1" text-anchor="end" >1</text>
<text x="36" y="750" font-size="10" fill="#3a3a3a" stroke="#3a3a3a" stroke-width="0.1" text-anchor="end" >2</text>
<text x="36" y="712.65" font-size="10" fill="#3a3a3a" stroke="#3a3a3a" stroke-width="0.1" text-anchor="end" >3</text>
<text x="36" y="675.3" font-size="10" fill="#3a3a3a" stroke="#3a3a3a" stroke-width="0.1" text-anchor="end" >4</text>
<rect x="49.6" y="783.4" width="25.4" height="37.7" fill="#dbeef4" stroke="#1a1a1a" stroke-width="0.9" />
<line x1="62.5" y1="781" x2="62.5" y2="786" stroke="#000" stroke-width="1.15" />
<line x1="60.9" y1="781" x2="64.1" y2="781" stroke="#000" stroke-width="1.15" />
<line x1="60.9" y1="786" x2="64.1" y2="786" stroke="#000" stroke-width="1.15" />
<rect x="92.6" y="700.2" width="25.8" height="120.9" fill="#31849b" stroke="#1a1a1a" stroke-width="0.9" />
<line x1="105.5" y1="692" x2="105.5" y2="710.7" stroke="#000" stroke-width="1.15" />
<line x1="103.4" y1="692" x2="107.6" y2="692" stroke="#000" stroke-width="1.15" />
<line x1="103.4" y1="710.7" x2="107.6" y2="710.7" stroke="#000" stroke-width="1.15" />
<path d="M105.5,686.62L105.5,682.96M105.5,686.62L108.98,685.49M105.5,686.62L107.65,689.57M105.5,686.62L103.35,689.57M105.5,686.62L102.02,685.49" stroke="#000" stroke-width="1.72" stroke-linecap="round" fill="none"/>
<text x="63" y="835.5" font-size="10.3" fill="#1a1a1a" stroke="#1a1a1a" stroke-width="0.1" text-anchor="middle" >Veh</text>
<text x="80.7" y="835.5" font-size="10.3" fill="#3535f5" stroke="#3535f5" stroke-width="0.1" text-anchor="start" >SC66 (3 μM), 24h</text>
<text x="21.94" y="739.3" font-size="11.8" fill="#000" font-weight="bold" text-anchor="middle" transform="rotate(-90 21.94 739.3)" >ROS (Folds of “Veh”)</text>
<text x="164.2" y="659.05" font-size="16.5" fill="#000" font-weight="bold" text-anchor="start" >L</text>
<text x="199.4" y="824.9" font-size="10" fill="#3a3a3a" stroke="#3a3a3a" stroke-width="0.1" text-anchor="end" >0</text>
<text x="199.4" y="778.7" font-size="10" fill="#3a3a3a" stroke="#3a3a3a" stroke-width="0.1" text-anchor="end" >1</text>
<text x="199.4" y="732.5" font-size="10" fill="#3a3a3a" stroke="#3a3a3a" stroke-width="0.1" text-anchor="end" >2</text>
<text x="199.4" y="686.3" font-size="10" fill="#3a3a3a" stroke="#3a3a3a" stroke-width="0.1" text-anchor="end" >3</text>
<rect x="212.1" y="775.4" width="24.3" height="45.9" fill="#dbeef4" stroke="#1a1a1a" stroke-width="0.9" />
<line x1="224.5" y1="772.8" x2="224.5" y2="778" stroke="#000" stroke-width="1.15" />
<line x1="222.9" y1="772.8" x2="226.1" y2="772.8" stroke="#000" stroke-width="1.15" />
<line x1="222.9" y1="778" x2="226.1" y2="778" stroke="#000" stroke-width="1.15" />
<rect x="252.3" y="705.2" width="24.4" height="116.1" fill="#31849b" stroke="#1a1a1a" stroke-width="0.9" />
<line x1="264.5" y1="700.7" x2="264.5" y2="711.2" stroke="#000" stroke-width="1.15" />
<line x1="262.4" y1="700.7" x2="266.6" y2="700.7" stroke="#000" stroke-width="1.15" />
<line x1="262.4" y1="711.2" x2="266.6" y2="711.2" stroke="#000" stroke-width="1.15" />
<path d="M265,695.11L265,691.54M265,695.11L268.39,694.01M265,695.11L267.1,697.99M265,695.11L262.9,697.99M265,695.11L261.61,694.01" stroke="#000" stroke-width="1.68" stroke-linecap="round" fill="none"/>
<text x="225.3" y="835.5" font-size="10.3" fill="#1a1a1a" stroke="#1a1a1a" stroke-width="0.1" text-anchor="middle" >Veh</text>
<text x="243.1" y="835.5" font-size="10.3" fill="#3535f5" stroke="#3535f5" stroke-width="0.1" text-anchor="start" >SC66 (3 μM), 24h</text>
<text x="174.6" y="757.1" font-size="10" fill="#333" stroke="#333" stroke-width="0.1" text-anchor="middle" transform="rotate(-90 174.6 757.1)" >Mitochondrial depolarization</text>
<text x="187.55" y="762.1" font-size="10.5" fill="#333" stroke="#333" stroke-width="0.1" text-anchor="middle" transform="rotate(-90 187.55 762.1)" >(JC-1 intensity, Folds)</text>
<text x="321.5" y="659.05" font-size="16.5" fill="#000" font-weight="bold" text-anchor="start" >M</text>
<text x="353" y="826.2" font-size="10" fill="#3a3a3a" stroke="#3a3a3a" stroke-width="0.1" text-anchor="end" >0</text>
<text x="353" y="793.3" font-size="10" fill="#3a3a3a" stroke="#3a3a3a" stroke-width="0.1" text-anchor="end" >1</text>
<text x="353" y="760.4" font-size="10" fill="#3a3a3a" stroke="#3a3a3a" stroke-width="0.1" text-anchor="end" >2</text>
<text x="353" y="727.5" font-size="10" fill="#3a3a3a" stroke="#3a3a3a" stroke-width="0.1" text-anchor="end" >3</text>
<text x="353" y="694.6" font-size="10" fill="#3a3a3a" stroke="#3a3a3a" stroke-width="0.1" text-anchor="end" >4</text>
<rect x="367.1" y="790" width="26.6" height="32.6" fill="#dbeef4" stroke="#1a1a1a" stroke-width="0.9" />
<line x1="380.5" y1="787.6" x2="380.5" y2="792.4" stroke="#000" stroke-width="1.15" />
<line x1="378.9" y1="787.6" x2="382.1" y2="787.6" stroke="#000" stroke-width="1.15" />
<line x1="378.9" y1="792.4" x2="382.1" y2="792.4" stroke="#000" stroke-width="1.15" />
<rect x="410.6" y="697" width="26" height="125.6" fill="#31849b" stroke="#1a1a1a" stroke-width="0.9" />
<line x1="423.5" y1="689" x2="423.5" y2="705.2" stroke="#000" stroke-width="1.15" />
<line x1="421.4" y1="689" x2="425.6" y2="689" stroke="#000" stroke-width="1.15" />
<line x1="421.4" y1="705.2" x2="425.6" y2="705.2" stroke="#000" stroke-width="1.15" />
<path d="M423.1,683.21L423.1,679.64M423.1,683.21L426.49,682.11M423.1,683.21L425.2,686.09M423.1,683.21L421,686.09M423.1,683.21L419.71,682.11" stroke="#000" stroke-width="1.68" stroke-linecap="round" fill="none"/>
<text x="380.3" y="835.5" font-size="10.3" fill="#1a1a1a" stroke="#1a1a1a" stroke-width="0.1" text-anchor="middle" >Veh</text>
<text x="398.1" y="835.5" font-size="10.3" fill="#3535f5" stroke="#3535f5" stroke-width="0.1" text-anchor="start" >SC66 (3 μM), 24h</text>
<text x="338.95" y="746.6" font-size="11.5" fill="#000" font-weight="bold" text-anchor="middle" transform="rotate(-90 338.95 746.6)" >Ceramide (Folds of “Veh”)</text>
<text x="467.5" y="657.85" font-size="16.5" fill="#000" font-weight="bold" text-anchor="start" >N</text>
<text x="490.3" y="698.3" font-size="10.3" fill="#222" stroke="#222" stroke-width="0.1" text-anchor="start" >Veh</text>
<text x="517.1" y="698.3" font-size="10.3" fill="#3535f5" stroke="#3535f5" stroke-width="0.1" text-anchor="start" >SC66 (3 μM), 24h</text>
<rect x="476.9" y="704.5" width="80.6" height="29.8" fill="#ececec" stroke="#222" stroke-width="0.9" />
<rect x="522.6" y="712.6" width="30.9" height="2.4" rx="1.2" fill="#7a7a7a" opacity="1.0" filter="url(#b2)"/>
<rect x="522.6" y="722.5" width="30.9" height="3.6" rx="1.8" fill="#2a2a2a" opacity="1.0" filter="url(#b2)"/>
<text x="560.5" y="721.2" font-size="9.3" fill="#222" stroke="#222" stroke-width="0.1" text-anchor="start" >p-JNK1/2</text>
<text x="484.8" y="744.2" font-size="10" fill="#222" stroke="#222" stroke-width="0.1" text-anchor="start" >0.01</text>
<text x="529" y="744.2" font-size="10" fill="#222" stroke="#222" stroke-width="0.1" text-anchor="start" >0.95 (vs. JNK1/2)</text>
<rect x="476.9" y="748.1" width="80.6" height="29.6" fill="#ececec" stroke="#222" stroke-width="0.9" />
<rect x="481.2" y="754.4" width="28.9" height="2.8" rx="1.4" fill="#555" opacity="1.0" filter="url(#b2)"/>
<rect x="517.3" y="754.4" width="34.8" height="2.8" rx="1.4" fill="#666" opacity="1.0" filter="url(#b2)"/>
<rect x="480.5" y="764.7" width="30.3" height="4" rx="2" fill="#1a1a1a" opacity="1.0" filter="url(#b2)"/>
<rect x="517" y="764.7" width="36" height="4" rx="2" fill="#1a1a1a" opacity="1.0" filter="url(#b2)"/>
<text x="560.5" y="768.2" font-size="9.3" fill="#222" stroke="#222" stroke-width="0.1" text-anchor="start" >JNK1/2</text>
<line x1="44.4" y1="37.3" x2="44.4" y2="199.6" stroke="#8a8a8a" stroke-width="2" />
<line x1="41.4" y1="196.6" x2="44.4" y2="196.6" stroke="#8a8a8a" stroke-width="1.3" />
<line x1="41.4" y1="143.6" x2="44.4" y2="143.6" stroke="#8a8a8a" stroke-width="1.3" />
<line x1="41.4" y1="90.6" x2="44.4" y2="90.6" stroke="#8a8a8a" stroke-width="1.3" />
<line x1="41.4" y1="37.6" x2="44.4" y2="37.6" stroke="#8a8a8a" stroke-width="1.3" />
<line x1="43.4" y1="196.6" x2="174.2" y2="196.6" stroke="#8a8a8a" stroke-width="1.9" />
<line x1="70" y1="196.6" x2="70" y2="199.6" stroke="#8a8a8a" stroke-width="1.3" />
<line x1="96.3" y1="196.6" x2="96.3" y2="199.6" stroke="#8a8a8a" stroke-width="1.3" />
<line x1="122.4" y1="196.6" x2="122.4" y2="199.6" stroke="#8a8a8a" stroke-width="1.3" />
<line x1="148.6" y1="196.6" x2="148.6" y2="199.6" stroke="#8a8a8a" stroke-width="1.3" />
<line x1="174.2" y1="196.6" x2="174.2" y2="199.6" stroke="#8a8a8a" stroke-width="1.3" />
<line x1="233.5" y1="37.2" x2="233.5" y2="197.9" stroke="#8a8a8a" stroke-width="2" />
<line x1="230.5" y1="194.9" x2="233.5" y2="194.9" stroke="#8a8a8a" stroke-width="1.3" />
<line x1="230.5" y1="177.4" x2="233.5" y2="177.4" stroke="#8a8a8a" stroke-width="1.3" />
<line x1="230.5" y1="159.9" x2="233.5" y2="159.9" stroke="#8a8a8a" stroke-width="1.3" />
<line x1="230.5" y1="142.4" x2="233.5" y2="142.4" stroke="#8a8a8a" stroke-width="1.3" />
<line x1="230.5" y1="124.9" x2="233.5" y2="124.9" stroke="#8a8a8a" stroke-width="1.3" />
<line x1="230.5" y1="107.4" x2="233.5" y2="107.4" stroke="#8a8a8a" stroke-width="1.3" />
<line x1="230.5" y1="89.9" x2="233.5" y2="89.9" stroke="#8a8a8a" stroke-width="1.3" />
<line x1="230.5" y1="72.4" x2="233.5" y2="72.4" stroke="#8a8a8a" stroke-width="1.3" />
<line x1="230.5" y1="54.9" x2="233.5" y2="54.9" stroke="#8a8a8a" stroke-width="1.3" />
<line x1="230.5" y1="37.4" x2="233.5" y2="37.4" stroke="#8a8a8a" stroke-width="1.3" />
<line x1="232.5" y1="194.9" x2="353.4" y2="194.9" stroke="#8a8a8a" stroke-width="1.9" />
<line x1="257.6" y1="194.9" x2="257.6" y2="197.9" stroke="#8a8a8a" stroke-width="1.3" />
<line x1="281.4" y1="194.9" x2="281.4" y2="197.9" stroke="#8a8a8a" stroke-width="1.3" />
<line x1="305.5" y1="194.9" x2="305.5" y2="197.9" stroke="#8a8a8a" stroke-width="1.3" />
<line x1="329.6" y1="194.9" x2="329.6" y2="197.9" stroke="#8a8a8a" stroke-width="1.3" />
<line x1="353.4" y1="194.9" x2="353.4" y2="197.9" stroke="#8a8a8a" stroke-width="1.3" />
<line x1="410.9" y1="43.85" x2="410.9" y2="206.6" stroke="#8a8a8a" stroke-width="2" />
<line x1="407.9" y1="203.6" x2="410.9" y2="203.6" stroke="#8a8a8a" stroke-width="1.3" />
<line x1="407.9" y1="185.85" x2="410.9" y2="185.85" stroke="#8a8a8a" stroke-width="1.3" />
<line x1="407.9" y1="168.1" x2="410.9" y2="168.1" stroke="#8a8a8a" stroke-width="1.3" />
<line x1="407.9" y1="150.35" x2="410.9" y2="150.35" stroke="#8a8a8a" stroke-width="1.3" />
<line x1="407.9" y1="132.6" x2="410.9" y2="132.6" stroke="#8a8a8a" stroke-width="1.3" />
<line x1="407.9" y1="114.85" x2="410.9" y2="114.85" stroke="#8a8a8a" stroke-width="1.3" />
<line x1="407.9" y1="97.1" x2="410.9" y2="97.1" stroke="#8a8a8a" stroke-width="1.3" />
<line x1="407.9" y1="79.35" x2="410.9" y2="79.35" stroke="#8a8a8a" stroke-width="1.3" />
<line x1="407.9" y1="61.6" x2="410.9" y2="61.6" stroke="#8a8a8a" stroke-width="1.3" />
<line x1="407.9" y1="43.85" x2="410.9" y2="43.85" stroke="#8a8a8a" stroke-width="1.3" />
<line x1="409.9" y1="203.6" x2="502.8" y2="203.6" stroke="#8a8a8a" stroke-width="1.9" />
<line x1="456.8" y1="203.6" x2="456.8" y2="206.6" stroke="#8a8a8a" stroke-width="1.3" />
<line x1="502.8" y1="203.6" x2="502.8" y2="206.6" stroke="#8a8a8a" stroke-width="1.3" />
<line x1="36.8" y1="247.22" x2="36.8" y2="409.1" stroke="#8a8a8a" stroke-width="2" />
<line x1="33.8" y1="406.1" x2="36.8" y2="406.1" stroke="#8a8a8a" stroke-width="1.3" />
<line x1="33.8" y1="386.24" x2="36.8" y2="386.24" stroke="#8a8a8a" stroke-width="1.3" />
<line x1="33.8" y1="366.38" x2="36.8" y2="366.38" stroke="#8a8a8a" stroke-width="1.3" />
<line x1="33.8" y1="346.52" x2="36.8" y2="346.52" stroke="#8a8a8a" stroke-width="1.3" />
<line x1="33.8" y1="326.66" x2="36.8" y2="326.66" stroke="#8a8a8a" stroke-width="1.3" />
<line x1="33.8" y1="306.8" x2="36.8" y2="306.8" stroke="#8a8a8a" stroke-width="1.3" />
<line x1="33.8" y1="286.94" x2="36.8" y2="286.94" stroke="#8a8a8a" stroke-width="1.3" />
<line x1="33.8" y1="267.08" x2="36.8" y2="267.08" stroke="#8a8a8a" stroke-width="1.3" />
<line x1="33.8" y1="247.22" x2="36.8" y2="247.22" stroke="#8a8a8a" stroke-width="1.3" />
<line x1="35.8" y1="406.1" x2="131.4" y2="406.1" stroke="#8a8a8a" stroke-width="1.9" />
<line x1="84" y1="406.1" x2="84" y2="409.1" stroke="#8a8a8a" stroke-width="1.3" />
<line x1="131.4" y1="406.1" x2="131.4" y2="409.1" stroke="#8a8a8a" stroke-width="1.3" />
<line x1="240" y1="267.7" x2="240" y2="408.6" stroke="#8a8a8a" stroke-width="2" />
<line x1="237" y1="405.6" x2="240" y2="405.6" stroke="#8a8a8a" stroke-width="1.3" />
<line x1="237" y1="391.81" x2="240" y2="391.81" stroke="#8a8a8a" stroke-width="1.3" />
<line x1="237" y1="378.02" x2="240" y2="378.02" stroke="#8a8a8a" stroke-width="1.3" />
<line x1="237" y1="364.23" x2="240" y2="364.23" stroke="#8a8a8a" stroke-width="1.3" />
<line x1="237" y1="350.44" x2="240" y2="350.44" stroke="#8a8a8a" stroke-width="1.3" />
<line x1="237" y1="336.65" x2="240" y2="336.65" stroke="#8a8a8a" stroke-width="1.3" />
<line x1="237" y1="322.86" x2="240" y2="322.86" stroke="#8a8a8a" stroke-width="1.3" />
<line x1="237" y1="309.07" x2="240" y2="309.07" stroke="#8a8a8a" stroke-width="1.3" />
<line x1="237" y1="295.28" x2="240" y2="295.28" stroke="#8a8a8a" stroke-width="1.3" />
<line x1="237" y1="281.49" x2="240" y2="281.49" stroke="#8a8a8a" stroke-width="1.3" />
<line x1="237" y1="267.7" x2="240" y2="267.7" stroke="#8a8a8a" stroke-width="1.3" />
<line x1="239" y1="405.6" x2="320.2" y2="405.6" stroke="#8a8a8a" stroke-width="1.9" />
<line x1="279.7" y1="405.6" x2="279.7" y2="408.6" stroke="#8a8a8a" stroke-width="1.3" />
<line x1="320.2" y1="405.6" x2="320.2" y2="408.6" stroke="#8a8a8a" stroke-width="1.3" />
<line x1="419.6" y1="246.78" x2="419.6" y2="408.6" stroke="#8a8a8a" stroke-width="2" />
<line x1="416.6" y1="405.6" x2="419.6" y2="405.6" stroke="#8a8a8a" stroke-width="1.3" />
<line x1="416.6" y1="392.37" x2="419.6" y2="392.37" stroke="#8a8a8a" stroke-width="1.3" />
<line x1="416.6" y1="379.13" x2="419.6" y2="379.13" stroke="#8a8a8a" stroke-width="1.3" />
<line x1="416.6" y1="365.9" x2="419.6" y2="365.9" stroke="#8a8a8a" stroke-width="1.3" />
<line x1="416.6" y1="352.66" x2="419.6" y2="352.66" stroke="#8a8a8a" stroke-width="1.3" />
<line x1="416.6" y1="339.43" x2="419.6" y2="339.43" stroke="#8a8a8a" stroke-width="1.3" />
<line x1="416.6" y1="326.19" x2="419.6" y2="326.19" stroke="#8a8a8a" stroke-width="1.3" />
<line x1="416.6" y1="312.96" x2="419.6" y2="312.96" stroke="#8a8a8a" stroke-width="1.3" />
<line x1="416.6" y1="299.72" x2="419.6" y2="299.72" stroke="#8a8a8a" stroke-width="1.3" />
<line x1="416.6" y1="286.49" x2="419.6" y2="286.49" stroke="#8a8a8a" stroke-width="1.3" />
<line x1="416.6" y1="273.25" x2="419.6" y2="273.25" stroke="#8a8a8a" stroke-width="1.3" />
<line x1="416.6" y1="260.02" x2="419.6" y2="260.02" stroke="#8a8a8a" stroke-width="1.3" />
<line x1="416.6" y1="246.78" x2="419.6" y2="246.78" stroke="#8a8a8a" stroke-width="1.3" />
<line x1="418.6" y1="405.6" x2="510.4" y2="405.6" stroke="#8a8a8a" stroke-width="1.9" />
<line x1="464.8" y1="405.6" x2="464.8" y2="408.6" stroke="#8a8a8a" stroke-width="1.3" />
<line x1="510.4" y1="405.6" x2="510.4" y2="408.6" stroke="#8a8a8a" stroke-width="1.3" />
<line x1="47.3" y1="452" x2="47.3" y2="613.8" stroke="#8a8a8a" stroke-width="2" />
<line x1="44.3" y1="610.8" x2="47.3" y2="610.8" stroke="#8a8a8a" stroke-width="1.3" />
<line x1="44.3" y1="588.12" x2="47.3" y2="588.12" stroke="#8a8a8a" stroke-width="1.3" />
<line x1="44.3" y1="565.43" x2="47.3" y2="565.43" stroke="#8a8a8a" stroke-width="1.3" />
<line x1="44.3" y1="542.75" x2="47.3" y2="542.75" stroke="#8a8a8a" stroke-width="1.3" />
<line x1="44.3" y1="520.06" x2="47.3" y2="520.06" stroke="#8a8a8a" stroke-width="1.3" />
<line x1="44.3" y1="497.37" x2="47.3" y2="497.37" stroke="#8a8a8a" stroke-width="1.3" />
<line x1="44.3" y1="474.69" x2="47.3" y2="474.69" stroke="#8a8a8a" stroke-width="1.3" />
<line x1="44.3" y1="452" x2="47.3" y2="452" stroke="#8a8a8a" stroke-width="1.3" />
<line x1="46.3" y1="610.8" x2="139.8" y2="610.8" stroke="#8a8a8a" stroke-width="1.9" />
<line x1="93.5" y1="610.8" x2="93.5" y2="613.8" stroke="#8a8a8a" stroke-width="1.3" />
<line x1="139.8" y1="610.8" x2="139.8" y2="613.8" stroke="#8a8a8a" stroke-width="1.3" />
<line x1="309.5" y1="469.9" x2="309.5" y2="616.7" stroke="#8a8a8a" stroke-width="2" />
<line x1="306.5" y1="613.7" x2="309.5" y2="613.7" stroke="#8a8a8a" stroke-width="1.3" />
<line x1="306.5" y1="599.32" x2="309.5" y2="599.32" stroke="#8a8a8a" stroke-width="1.3" />
<line x1="306.5" y1="584.94" x2="309.5" y2="584.94" stroke="#8a8a8a" stroke-width="1.3" />
<line x1="306.5" y1="570.56" x2="309.5" y2="570.56" stroke="#8a8a8a" stroke-width="1.3" />
<line x1="306.5" y1="556.18" x2="309.5" y2="556.18" stroke="#8a8a8a" stroke-width="1.3" />
<line x1="306.5" y1="541.8" x2="309.5" y2="541.8" stroke="#8a8a8a" stroke-width="1.3" />
<line x1="306.5" y1="527.42" x2="309.5" y2="527.42" stroke="#8a8a8a" stroke-width="1.3" />
<line x1="306.5" y1="513.04" x2="309.5" y2="513.04" stroke="#8a8a8a" stroke-width="1.3" />
<line x1="306.5" y1="498.66" x2="309.5" y2="498.66" stroke="#8a8a8a" stroke-width="1.3" />
<line x1="306.5" y1="484.28" x2="309.5" y2="484.28" stroke="#8a8a8a" stroke-width="1.3" />
<line x1="306.5" y1="469.9" x2="309.5" y2="469.9" stroke="#8a8a8a" stroke-width="1.3" />
<line x1="308.5" y1="613.7" x2="480" y2="613.7" stroke="#8a8a8a" stroke-width="1.9" />
<line x1="394.6" y1="613.7" x2="394.6" y2="616.7" stroke="#8a8a8a" stroke-width="1.3" />
<line x1="480" y1="613.7" x2="480" y2="616.7" stroke="#8a8a8a" stroke-width="1.3" />
<line x1="511.8" y1="469.65" x2="511.8" y2="615.9" stroke="#8a8a8a" stroke-width="2" />
<line x1="508.8" y1="612.9" x2="511.8" y2="612.9" stroke="#8a8a8a" stroke-width="1.3" />
<line x1="508.8" y1="589.02" x2="511.8" y2="589.02" stroke="#8a8a8a" stroke-width="1.3" />
<line x1="508.8" y1="565.15" x2="511.8" y2="565.15" stroke="#8a8a8a" stroke-width="1.3" />
<line x1="508.8" y1="541.27" x2="511.8" y2="541.27" stroke="#8a8a8a" stroke-width="1.3" />
<line x1="508.8" y1="517.4" x2="511.8" y2="517.4" stroke="#8a8a8a" stroke-width="1.3" />
<line x1="508.8" y1="493.52" x2="511.8" y2="493.52" stroke="#8a8a8a" stroke-width="1.3" />
<line x1="508.8" y1="469.65" x2="511.8" y2="469.65" stroke="#8a8a8a" stroke-width="1.3" />
<line x1="510.8" y1="612.9" x2="684" y2="612.9" stroke="#8a8a8a" stroke-width="1.9" />
<line x1="598.2" y1="612.9" x2="598.2" y2="615.9" stroke="#8a8a8a" stroke-width="1.3" />
<line x1="684" y1="612.9" x2="684" y2="615.9" stroke="#8a8a8a" stroke-width="1.3" />
<line x1="41" y1="671.7" x2="41" y2="824.1" stroke="#8a8a8a" stroke-width="2" />
<line x1="38" y1="821.1" x2="41" y2="821.1" stroke="#8a8a8a" stroke-width="1.3" />
<line x1="38" y1="802.43" x2="41" y2="802.43" stroke="#8a8a8a" stroke-width="1.3" />
<line x1="38" y1="783.75" x2="41" y2="783.75" stroke="#8a8a8a" stroke-width="1.3" />
<line x1="38" y1="765.08" x2="41" y2="765.08" stroke="#8a8a8a" stroke-width="1.3" />
<line x1="38" y1="746.4" x2="41" y2="746.4" stroke="#8a8a8a" stroke-width="1.3" />
<line x1="38" y1="727.73" x2="41" y2="727.73" stroke="#8a8a8a" stroke-width="1.3" />
<line x1="38" y1="709.05" x2="41" y2="709.05" stroke="#8a8a8a" stroke-width="1.3" />
<line x1="38" y1="690.38" x2="41" y2="690.38" stroke="#8a8a8a" stroke-width="1.3" />
<line x1="38" y1="671.7" x2="41" y2="671.7" stroke="#8a8a8a" stroke-width="1.3" />
<line x1="40" y1="821.1" x2="127.8" y2="821.1" stroke="#8a8a8a" stroke-width="1.9" />
<line x1="83.9" y1="821.1" x2="83.9" y2="824.1" stroke="#8a8a8a" stroke-width="1.3" />
<line x1="127.8" y1="821.1" x2="127.8" y2="824.1" stroke="#8a8a8a" stroke-width="1.3" />
<line x1="203.5" y1="682.7" x2="203.5" y2="824.3" stroke="#8a8a8a" stroke-width="2" />
<line x1="200.5" y1="821.3" x2="203.5" y2="821.3" stroke="#8a8a8a" stroke-width="1.3" />
<line x1="200.5" y1="798.2" x2="203.5" y2="798.2" stroke="#8a8a8a" stroke-width="1.3" />
<line x1="200.5" y1="775.1" x2="203.5" y2="775.1" stroke="#8a8a8a" stroke-width="1.3" />
<line x1="200.5" y1="752" x2="203.5" y2="752" stroke="#8a8a8a" stroke-width="1.3" />
<line x1="200.5" y1="728.9" x2="203.5" y2="728.9" stroke="#8a8a8a" stroke-width="1.3" />
<line x1="200.5" y1="705.8" x2="203.5" y2="705.8" stroke="#8a8a8a" stroke-width="1.3" />
<line x1="200.5" y1="682.7" x2="203.5" y2="682.7" stroke="#8a8a8a" stroke-width="1.3" />
<line x1="202.5" y1="821.3" x2="284.1" y2="821.3" stroke="#8a8a8a" stroke-width="1.9" />
<line x1="244.9" y1="821.3" x2="244.9" y2="824.3" stroke="#8a8a8a" stroke-width="1.3" />
<line x1="284.1" y1="821.3" x2="284.1" y2="824.3" stroke="#8a8a8a" stroke-width="1.3" />
<line x1="358.2" y1="674.55" x2="358.2" y2="825.6" stroke="#8a8a8a" stroke-width="2" />
<line x1="355.2" y1="822.6" x2="358.2" y2="822.6" stroke="#8a8a8a" stroke-width="1.3" />
<line x1="355.2" y1="806.15" x2="358.2" y2="806.15" stroke="#8a8a8a" stroke-width="1.3" />
<line x1="355.2" y1="789.7" x2="358.2" y2="789.7" stroke="#8a8a8a" stroke-width="1.3" />
<line x1="355.2" y1="773.25" x2="358.2" y2="773.25" stroke="#8a8a8a" stroke-width="1.3" />
<line x1="355.2" y1="756.8" x2="358.2" y2="756.8" stroke="#8a8a8a" stroke-width="1.3" />
<line x1="355.2" y1="740.35" x2="358.2" y2="740.35" stroke="#8a8a8a" stroke-width="1.3" />
<line x1="355.2" y1="723.9" x2="358.2" y2="723.9" stroke="#8a8a8a" stroke-width="1.3" />
<line x1="355.2" y1="707.45" x2="358.2" y2="707.45" stroke="#8a8a8a" stroke-width="1.3" />
<line x1="355.2" y1="691" x2="358.2" y2="691" stroke="#8a8a8a" stroke-width="1.3" />
<line x1="355.2" y1="674.55" x2="358.2" y2="674.55" stroke="#8a8a8a" stroke-width="1.3" />
<line x1="357.2" y1="822.6" x2="445.8" y2="822.6" stroke="#8a8a8a" stroke-width="1.9" />
<line x1="401.9" y1="822.6" x2="401.9" y2="825.6" stroke="#8a8a8a" stroke-width="1.3" />
<line x1="445.8" y1="822.6" x2="445.8" y2="825.6" stroke="#8a8a8a" stroke-width="1.3" />
</g>
</svg>
</body></html>
